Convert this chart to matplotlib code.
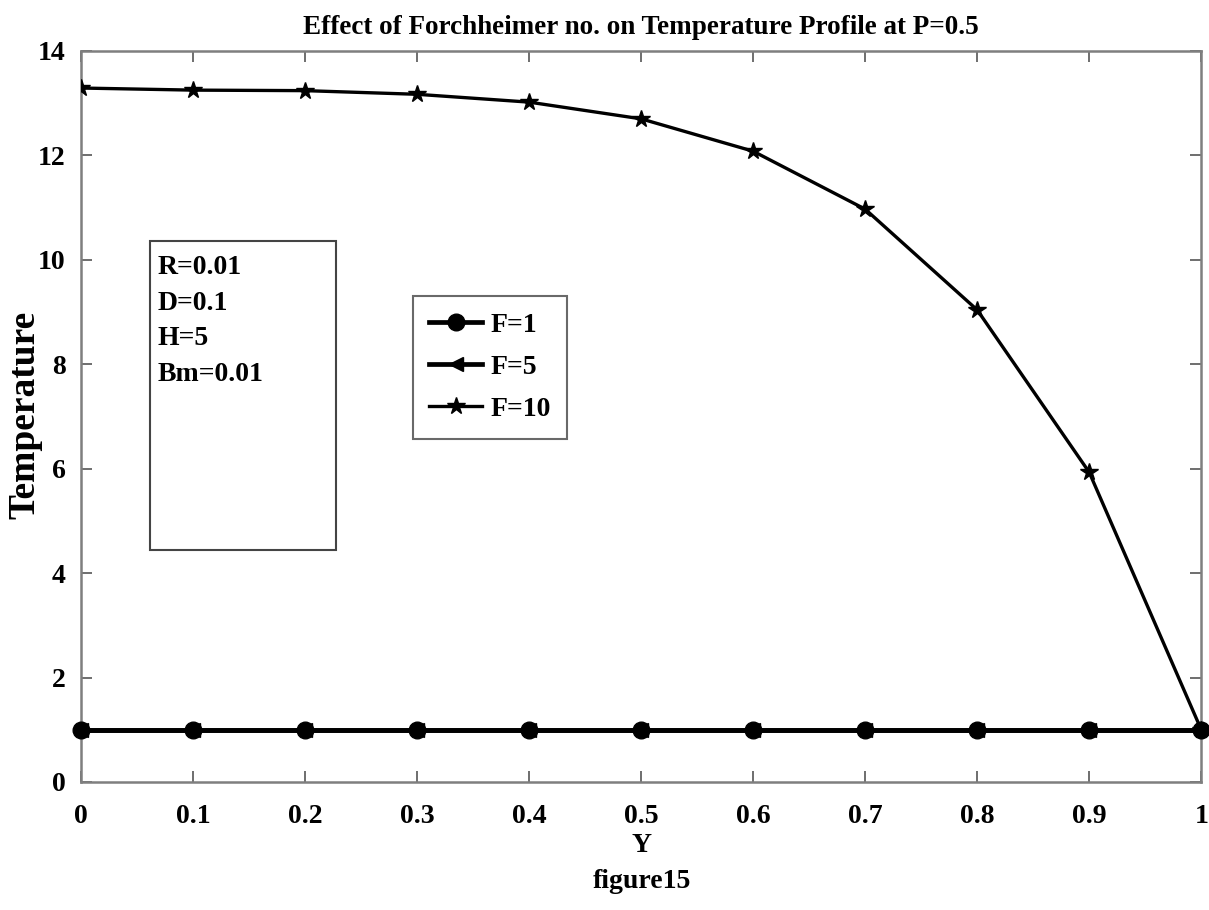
import matplotlib
matplotlib.use("Agg")
import matplotlib.pyplot as plt
from matplotlib.patches import Rectangle

plt.rcParams['font.family'] = ['Liberation Serif', 'DejaVu Serif']
plt.rcParams['font.weight'] = 'bold'

### DATA ###
y_pos = [0, 0.1, 0.2, 0.3, 0.4, 0.5, 0.6, 0.7, 0.8, 0.9, 1.0]
temp_f1 = [1.0, 1.0, 1.0, 1.0, 1.0, 1.0, 1.0, 1.0, 1.0, 1.0, 1.0]
temp_f5 = [1.0, 1.0, 1.0, 1.0, 1.0, 1.0, 1.0, 1.0, 1.0, 1.0, 1.0]
temp_f10 = [13.29, 13.25, 13.24, 13.17, 13.02, 12.70, 12.08, 10.97, 9.04, 5.93, 1.0]
xtick_labels = ["0", "0.1", "0.2", "0.3", "0.4", "0.5", "0.6", "0.7", "0.8", "0.9", "1"]
params = ["R=0.01", "D=0.1", "H=5", "Bm=0.01"]

### PLOT ###
fig = plt.figure(figsize=(12.09, 9.10), dpi=100)
ax = fig.add_axes([0.067, 0.1407, 0.9266, 0.8033])

# F=5 is hidden under F=1, draw it first
l5, = ax.plot(y_pos, temp_f5, color='black', lw=3.4, marker='<', ms=10, zorder=2)
l10, = ax.plot(y_pos, temp_f10, color='black', lw=2.4, marker='*', ms=13, zorder=3)
l1, = ax.plot(y_pos, temp_f1, color='black', lw=3.4, marker='o', ms=12, zorder=4,
              clip_on=False)

ax.set_xlim(0, 1)
ax.set_ylim(0, 14)
ax.set_xticks(y_pos)
ax.set_xticklabels(xtick_labels)
ax.set_yticks(range(0, 15, 2))

for s in ax.spines.values():
    s.set_color('#7f7f7f')
    s.set_linewidth(1.8)
ax.tick_params(direction='in', length=8, width=1.2, color='#555555',
               top=True, right=True, labelsize=20)
ax.tick_params(axis='x', pad=16)
ax.tick_params(axis='y', pad=11)

ax.set_title("Effect of Forchheimer no. on Temperature Profile at P=0.5",
             fontsize=19.5, fontweight='bold', pad=12)
fig.text(0.531, 1 - 845 / 910, "Y", fontsize=20, fontweight='bold',
         ha='center', va='center')
fig.text(0.531, 1 - 882 / 910, "figure15", fontsize=20, fontweight='bold',
         ha='center', va='center')
fig.text(25 / 1209, 1 - 415 / 910, "Temperature", fontsize=27, fontweight='bold',
         rotation=90, ha='center', va='center')

# parameter box
ax.add_patch(Rectangle((0.0616, 0.318), 0.1664, 0.4215, transform=ax.transAxes,
                       fill=False, edgecolor='#444444', lw=1.5))
for i, p in enumerate(params):
    ax.text(0.0685, 0.704 - i * 0.049, p, transform=ax.transAxes,
            fontsize=20, fontweight='bold', va='center', ha='left')

leg = ax.legend([l1, l5, l10], ["F=1", "F=5", "F=10"], loc='upper left',
                bbox_to_anchor=(0.296, 0.665), borderaxespad=0, fontsize=20,
                frameon=True, fancybox=False, edgecolor='#444444',
                handlelength=1.9, labelspacing=0.6, borderpad=0.6,
                handletextpad=0.3)
leg.get_frame().set_linewidth(1.5)

plt.savefig("out.png", dpi=100)
